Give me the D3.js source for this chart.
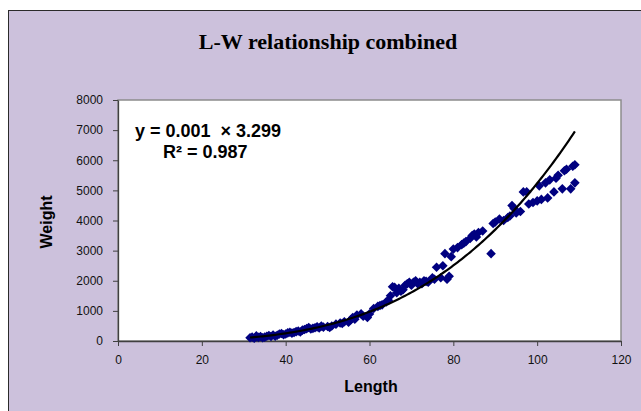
<!DOCTYPE html>
<html>
<head>
<meta charset="utf-8">
<script src="https://cdn.jsdelivr.net/npm/d3@7"></script>
<style>
  body { margin: 0; background: #fff; }
  svg { display: block; }
</style>
</head>
<body>
<div id="chart"></div>
<script>
// fish length / weight
const lengths = [31.5, 32, 32.5, 33, 33.5, 34, 35, 35.5, 36, 36.5, 37, 38, 38.5, 39, 40, 40.5, 41, 42, 42.5, 43,
  44, 45, 45.5, 46, 47, 47.5, 48, 49, 50, 51, 52, 53, 54, 55, 55.5, 56, 57, 58, 58.5, 59.5,
  60, 61, 62, 63, 64, 64.5, 65, 65.5, 66, 66.5, 67, 68, 68.5, 69, 70, 70.5, 71, 72, 72.5, 73,
  74, 75, 75.5, 76, 77, 77.5, 78, 78.5, 79, 79.5, 80, 81, 82, 83, 84, 84.5, 85, 86, 87, 89,
  89.5, 90, 91, 92, 93, 94, 94.5, 95, 96, 96.7, 97.5, 98, 99, 100, 100.5, 101, 102, 102.5, 103, 104,
  104.5, 105, 106, 106.5, 107, 108, 108.5, 109, 109,
  33, 34.5, 37.5, 39.5, 41.5, 43.5, 44.5, 46.5, 48.5, 50.5, 53.5, 56.5, 62.5, 67.5, 69.5, 71.5, 73.5, 82.5, 85.5, 93.5];
const weights = [110, 130, 90, 140, 120, 150, 130, 160, 180, 150, 200, 190, 230, 250, 230, 270, 290, 280, 310, 330,
  360, 410, 450, 400, 440, 470, 430, 460, 480, 500, 560, 600, 640, 620, 700, 780, 860, 900, 820, 780,
  900, 1080, 1150, 1200, 1300, 1350, 1500, 1800, 1780, 1600, 1750, 1700, 1850, 1900, 1850, 1950, 2000, 1950, 1900, 2000,
  1950, 2100, 2050, 2450, 2100, 2500, 2900, 2050, 2150, 2800, 3050, 3100, 3200, 3300, 3400, 3500, 3550, 3600, 3650, 2900,
  3900, 3950, 4050, 4000, 4100, 4500, 4400, 4250, 4300, 4950, 4950, 4550, 4600, 4650, 5150, 4700, 5250, 4750, 5350, 4950,
  5400, 5500, 5050, 5650, 5700, 5050, 5800, 5850, 5250,
  170, 110, 160, 210, 260, 300, 380, 420, 500, 450, 580, 720, 1180, 1650, 1950, 1900, 1980, 3250, 3450, 4150];

const xTicks = [0, 20, 40, 60, 80, 100, 120];
const yTicks = [0, 1000, 2000, 3000, 4000, 5000, 6000, 7000, 8000];

// power trendline y = a * x^b
const fitA = 0.001321;
const fitB = 3.299;
const eqLines = ['y = 0.001\u00a0\u00a0\u00d7 3.299', 'R\u00b2 = 0.987'];

const width = 641, height = 411;
const plot = { left: 118, right: 621, top: 100, bottom: 341 };

const svg = d3.select('#chart').append('svg')
  .attr('width', width)
  .attr('height', height);

// chart area
svg.append('rect')
  .attr('x', 8.5).attr('y', 10.5)
  .attr('width', width + 10).attr('height', height + 10)
  .attr('fill', '#ccc1dc')
  .attr('stroke', '#2b2b2b')
  .attr('stroke-width', 1);

svg.append('text')
  .attr('x', 328).attr('y', 49)
  .attr('text-anchor', 'middle')
  .style('font-family', '"Liberation Serif", "Times New Roman", serif')
  .style('font-weight', 'bold')
  .style('font-size', '22px')
  .text('L-W relationship combined');

const x = d3.scaleLinear().domain([0, 120]).range([plot.left, plot.right]);
const y = d3.scaleLinear().domain([0, 8000]).range([plot.bottom, plot.top]);

// plot area
svg.append('rect')
  .attr('x', plot.left).attr('y', plot.top)
  .attr('width', plot.right - plot.left).attr('height', plot.bottom - plot.top)
  .attr('fill', '#fff')
  .attr('stroke', '#8c8c8c')
  .attr('stroke-width', 1.5);

const xAxis = svg.append('g')
  .attr('transform', `translate(0,${plot.bottom})`)
  .call(d3.axisBottom(x).tickValues(xTicks).tickSize(5).tickSizeOuter(0).tickPadding(9));
const yAxis = svg.append('g')
  .attr('transform', `translate(${plot.left},0)`)
  .call(d3.axisLeft(y).tickValues(yTicks).tickFormat(d3.format('d')).tickSize(5).tickSizeOuter(0).tickPadding(10));

[xAxis, yAxis].forEach(g => {
  g.select('.domain').attr('stroke', '#404040').attr('stroke-width', 1.3);
  g.selectAll('.tick line').attr('stroke', '#404040');
  g.selectAll('.tick text')
    .attr('fill', '#111')
    .style('font-family', '"Liberation Sans", Arial, sans-serif')
    .style('font-size', '12px');
});

// trendline
const fitPts = d3.range(d3.min(lengths), d3.max(lengths) + 0.01, 0.5)
  .map(l => [l, fitA * Math.pow(l, fitB)]);

const diamond = d3.symbol().type(d3.symbolSquare).size(46);
svg.append('g')
  .selectAll('path')
  .data(lengths.map((l, i) => [l, weights[i]]))
  .enter()
  .append('path')
  .attr('d', diamond)
  .attr('transform', d => `translate(${x(d[0])},${y(d[1])}) rotate(45)`)
  .attr('fill', '#000080');

svg.append('path')
  .datum(fitPts)
  .attr('fill', 'none')
  .attr('stroke', '#000')
  .attr('stroke-width', 2.2)
  .attr('d', d3.line().x(d => x(d[0])).y(d => y(d[1])));

// equation label
const eq = svg.append('text')
  .style('font-family', '"Liberation Sans", Arial, sans-serif')
  .style('font-weight', 'bold')
  .style('font-size', '18px');
eq.append('tspan').attr('x', 135).attr('y', 137).text(eqLines[0]);
eq.append('tspan').attr('x', 163).attr('y', 158).text(eqLines[1]);

// axis titles
svg.append('text')
  .attr('x', 371).attr('y', 392)
  .attr('text-anchor', 'middle')
  .style('font-family', '"Liberation Sans", Arial, sans-serif')
  .style('font-weight', 'bold')
  .style('font-size', '16px')
  .text('Length');

svg.append('text')
  .attr('transform', 'translate(52,222) rotate(-90)')
  .attr('text-anchor', 'middle')
  .style('font-family', '"Liberation Sans", Arial, sans-serif')
  .style('font-weight', 'bold')
  .style('font-size', '16px')
  .text('Weight');
</script>
</body>
</html>
